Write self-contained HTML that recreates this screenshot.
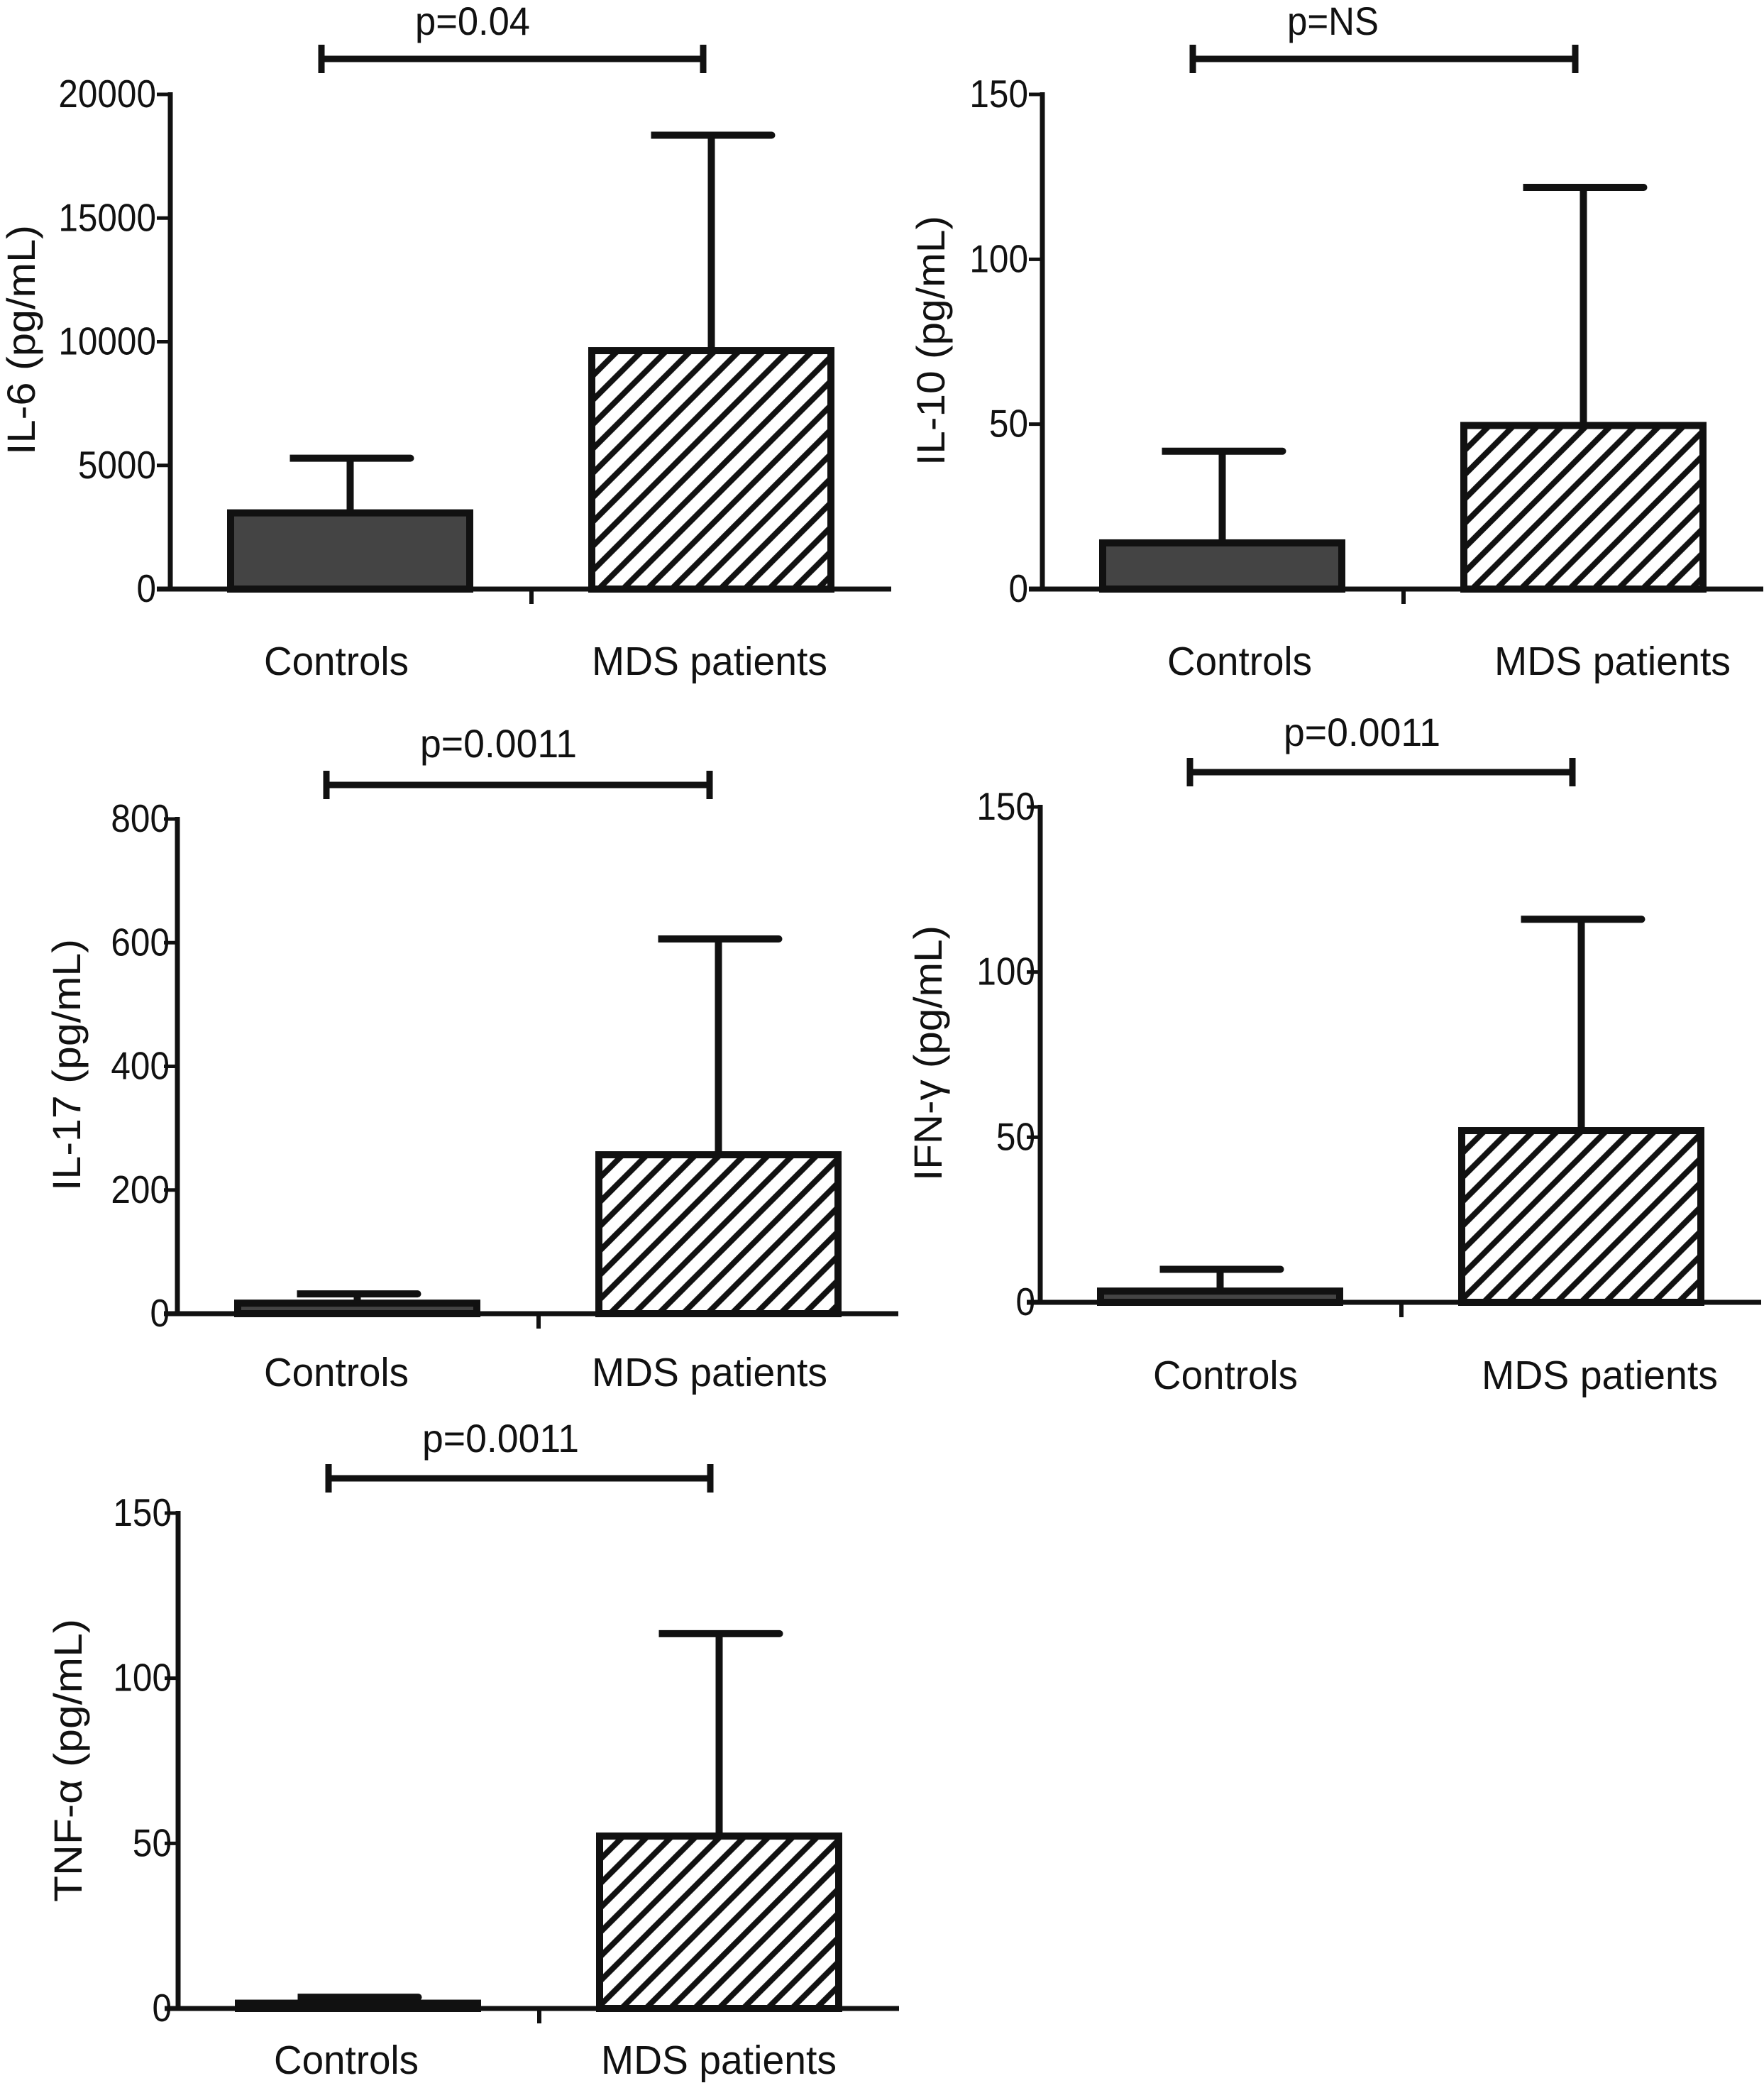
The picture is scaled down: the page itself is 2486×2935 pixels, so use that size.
<!DOCTYPE html>
<html lang="en">
<head>
<meta charset="utf-8">
<title>Cytokine levels in controls and MDS patients</title>
<style>
html,body{margin:0;padding:0;background:#fff;}
svg{display:block;}
text{font-family:"Liberation Sans","DejaVu Sans",sans-serif;fill:#111;}
</style>
</head>
<body>
<svg id="chart" xmlns="http://www.w3.org/2000/svg" width="2486" height="2935" viewBox="0 0 2486 2935"></svg>
<script>
// ---- data ----
const categories = ['Controls', 'MDS patients'];

const il6Means = [3080, 9640];
const il6Upper = [5290, 18350];
const il6Ticks = [0, 5000, 10000, 15000, 20000];

const il10Means = [14, 49.6];
const il10Upper = [41.8, 121.8];
const il10Ticks = [0, 50, 100, 150];

const il17Means = [17, 257];
const il17Upper = [32, 606];
const il17Ticks = [0, 200, 400, 600, 800];

const ifnMeans = [3.4, 52];
const ifnUpper = [10, 116];
const ifnTicks = [0, 50, 100, 150];

const tnfMeans = [1.6, 52.2];
const tnfUpper = [3.4, 113.5];
const tnfTicks = [0, 50, 100, 150];

const yTitles = ['IL-6 (pg/mL)', 'IL-10 (pg/mL)', 'IL-17 (pg/mL)', 'IFN-\u03b3 (pg/mL)', 'TNF-\u03b1 (pg/mL)'];
const pValues = ['p=0.04', 'p=NS', 'p=0.0011', 'p=0.0011', 'p=0.0011'];

// ---- layout of each panel ----
const layouts = [
  {means: il6Means, upper: il6Upper, ticks: il6Ticks, axisX: 240, top: 133, base: 830, tickGap: 22, hatch: 18,
   brL: 453, brR: 991, brY: 83, pX: 585, pW: 162, pY: 49,
   cX: 372, cW: 204, mX: 834, mW: 332, lY: 951, tX: 49, tBottom: 641, tTop: 317},
  {means: il10Means, upper: il10Upper, ticks: il10Ticks, axisX: 1469, top: 133, base: 830, tickGap: 22, hatch: 20,
   brL: 1681, brR: 2220, brY: 83, pX: 1814, pW: 129, pY: 49,
   cX: 1645, cW: 204, mX: 2106, mW: 333, lY: 951, tX: 1331, tBottom: 656, tTop: 304},
  {means: il17Means, upper: il17Upper, ticks: il17Ticks, axisX: 250, top: 1154, base: 1851, tickGap: 13, hatch: 24,
   brL: 460, brR: 1000, brY: 1106, pX: 592, pW: 221, pY: 1067,
   cX: 372, cW: 204, mX: 834, mW: 332, lY: 1953, tX: 113, tBottom: 1678, tTop: 1323},
  {means: ifnMeans, upper: ifnUpper, ticks: ifnTicks, axisX: 1466, top: 1137, base: 1835, tickGap: 9, hatch: 5,
   brL: 1677, brR: 2216, brY: 1088, pX: 1809, pW: 221, pY: 1051,
   cX: 1625, cW: 204, mX: 2088, mW: 333, lY: 1957, tX: 1327, tBottom: 1664, tTop: 1304},
  {means: tnfMeans, upper: tnfUpper, ticks: tnfTicks, axisX: 251, top: 2132, base: 2830, tickGap: 11, hatch: 5,
   brL: 463, brR: 1001, brY: 2083, pX: 595, pW: 221, pY: 2046,
   cX: 386, cW: 204, mX: 847, mW: 332, lY: 2922, tX: 115, tBottom: 2680, tTop: 2281}
];

const INK = '#111111';
const NS = 'http://www.w3.org/2000/svg';
const svg = document.getElementById('chart');
const defs = document.createElementNS(NS, 'defs');
svg.appendChild(defs);

function mk(parent, tag, attrs) {
  const el = document.createElementNS(NS, tag);
  for (const k in attrs) el.setAttribute(k, attrs[k]);
  parent.appendChild(el);
  return el;
}
function fitText(el, width) {
  el.setAttribute('textLength', width);
  el.setAttribute('lengthAdjust', 'spacingAndGlyphs');
}

const BAR_OFFSET = 80, BAR_STEP = 509, BAR_W = 347, STROKE = 10, HATCH_P = 34.3;

layouts.forEach(function (p, idx) {
  const yScale = function (v) {
    const max = p.ticks[p.ticks.length - 1];
    return p.base - (v / max) * (p.base - p.top);
  };
  const xLeft = function (i) { return p.axisX + BAR_OFFSET + i * BAR_STEP; };

  const g = mk(svg, 'g', {});
  
  

  // hatch pattern
  const pat = mk(defs, 'pattern', {
    id: 'hatch' + idx, patternUnits: 'userSpaceOnUse',
    x: xLeft(1) + p.hatch, y: p.base - 3.5, width: HATCH_P, height: HATCH_P
  });
  mk(pat, 'rect', {x: 0, y: 0, width: HATCH_P, height: HATCH_P, fill: '#fff'});
  mk(pat, 'path', {
    d: 'M-6,6L6,-6M-6,' + (HATCH_P + 6) + 'L' + (HATCH_P + 6) + ',-6M' + (HATCH_P - 6) + ',' + (HATCH_P + 6) + 'L' + (HATCH_P + 6) + ',' + (HATCH_P - 6),
    stroke: INK, 'stroke-width': 8, fill: 'none'
  });

  // bars and error bars
  categories.forEach(function (cat, i) {
    const left = xLeft(i), cx = left + BAR_W / 2;
    const yTop = yScale(p.means[i]), yErr = yScale(p.upper[i]);

    const stem = mk(g, 'line', {x1: cx, x2: cx, y1: yErr, y2: yTop, stroke: INK, 'stroke-width': STROKE});
    
    

    const capL = cx - 85, capR = cx + 90;
    const cap = mk(g, 'path', {
      d: 'M' + capL + ',' + (yErr - 5) + 'H' + (capR - 5) + 'A5,5 0 0 1 ' + (capR - 5) + ',' + (yErr + 5) + 'H' + capL + 'Z',
      fill: INK
    });
    
    

    const bar = mk(g, 'rect', {
      x: left + STROKE / 2, y: yTop, width: BAR_W - STROKE, height: Math.max(0, p.base - yTop),
      fill: i === 0 ? '#444444' : 'url(#hatch' + idx + ')', stroke: INK, 'stroke-width': STROKE
    });
    
    
  });

  // y axis
  const yAxis = mk(g, 'line', {x1: p.axisX, x2: p.axisX, y1: p.top - 3, y2: p.base + 3.5, stroke: INK, 'stroke-width': 7});
  
  

  // x axis
  const xAxis = mk(g, 'line', {x1: p.axisX - 19, x2: p.axisX + 1016, y1: p.base, y2: p.base, stroke: INK, 'stroke-width': 7});
  
  

  const xTick = mk(g, 'line', {x1: p.axisX + BAR_STEP, x2: p.axisX + BAR_STEP, y1: p.base, y2: p.base + 21, stroke: INK, 'stroke-width': 6});
  
  

  // y ticks and labels
  p.ticks.forEach(function (t) {
    const y = yScale(t);
    const tick = mk(g, 'line', {x1: p.axisX - 19, x2: p.axisX, y1: y, y2: y, stroke: INK, 'stroke-width': 5});
    
    

    const lab = mk(g, 'text', {x: p.axisX - p.tickGap + 2, y: y + 18, 'text-anchor': 'end', 'font-size': 55});
    
    
    lab.textContent = String(t);
    fitText(lab, lab.getComputedTextLength() * 0.9);
  });

  // y title
  const tLen = p.tBottom - p.tTop;
  const title = mk(g, 'text', {x: 0, y: 0, 'font-size': 56, transform: 'translate(' + p.tX + ',' + p.tBottom + ') rotate(-90)'});
  
  
  title.textContent = yTitles[idx];
  fitText(title, tLen);

  // category labels
  const catX = [p.cX, p.mX], catW = [p.cW, p.mW];
  categories.forEach(function (cat, i) {
    const lab = mk(g, 'text', {x: catX[i], y: p.lY, 'font-size': 57});
    
    
    lab.textContent = cat;
    fitText(lab, catW[i]);
  });

  // significance bracket
  const br = mk(g, 'g', {});
  
  
  mk(br, 'line', {x1: p.brL, x2: p.brR, y1: p.brY, y2: p.brY, stroke: INK, 'stroke-width': 9});
  mk(br, 'line', {x1: p.brL, x2: p.brL, y1: p.brY - 20, y2: p.brY + 20, stroke: INK, 'stroke-width': 9});
  mk(br, 'line', {x1: p.brR, x2: p.brR, y1: p.brY - 20, y2: p.brY + 20, stroke: INK, 'stroke-width': 9});

  const pv = mk(g, 'text', {x: p.pX, y: p.pY, 'font-size': 56});
  
  
  pv.textContent = pValues[idx];
  fitText(pv, p.pW);
});
</script>
</body>
</html>
